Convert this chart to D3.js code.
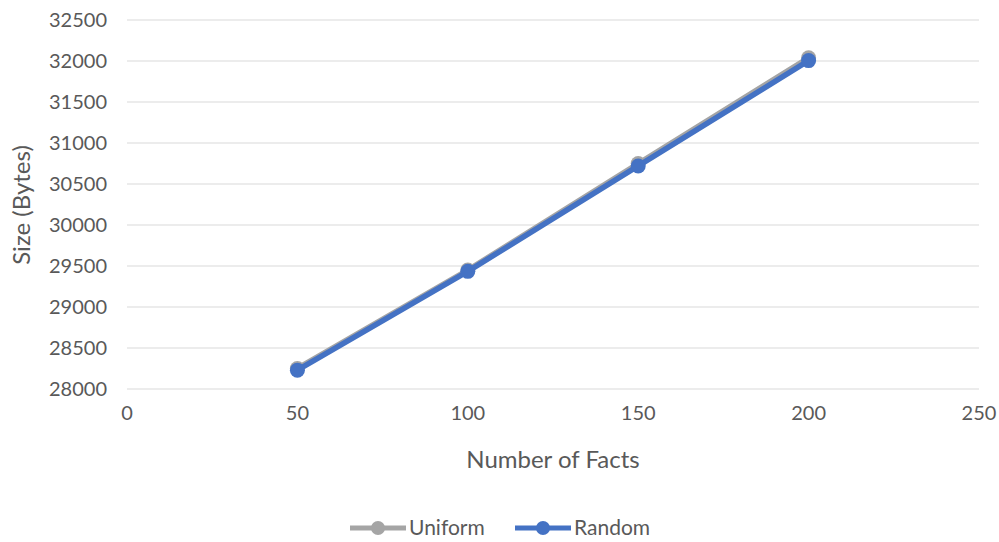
<!DOCTYPE html>
<html><head><meta charset="utf-8">
<script src="https://cdn.jsdelivr.net/npm/d3@7"></script>
<style>body{margin:0;background:#fff}svg{display:block;font-family:Lato,"Open Sans",sans-serif}</style>
</head><body>
<svg id="c" width="999" height="542"></svg>
<script>
const facts = [50, 100, 150, 200];
const uniform = [28250, 29450, 30750, 32040];
const random = [28230, 29435, 30720, 32005];
const seriesNames = ["Uniform", "Random"];
const seriesColors = ["#a5a5a5", "#4472c4"];
const xTicks = [0, 50, 100, 150, 200, 250];
const yTicks = [28000, 28500, 29000, 29500, 30000, 30500, 31000, 31500, 32000, 32500];

const svg = d3.select("#c");
const x = d3.scaleLinear().domain([0, 250]).range([127, 979]);
const y = d3.scaleLinear().domain([28000, 32500]).range([389, 20]);

svg.append("g").selectAll("line").data(yTicks).join("line")
  .attr("x1", x(0)).attr("x2", x(250)).attr("y1", d => y(d)).attr("y2", d => y(d))
  .attr("stroke", "#d9d9d9").attr("stroke-width", 1);

svg.append("g").selectAll("text").data(yTicks).join("text")
  .attr("x", 107).attr("y", d => y(d)).attr("dy", "0.35em").attr("text-anchor", "end")
  .attr("font-size", 20).attr("fill", "#595959").text(d => d);
svg.append("g").selectAll("text").data(xTicks).join("text")
  .attr("x", d => x(d)).attr("y", 420).attr("text-anchor", "middle")
  .attr("font-size", 20).attr("fill", "#595959").text(d => d);

svg.append("text").attr("x", 553).attr("y", 468).attr("text-anchor", "middle")
  .attr("font-size", 24).attr("fill", "#595959").text("Number of Facts");
svg.append("text").attr("transform", "translate(30,205) rotate(-90)").attr("text-anchor", "middle")
  .attr("font-size", 24).attr("fill", "#595959").text("Size (Bytes)");

const data = [uniform, random];
const line = d3.line().x((d, i) => x(facts[i])).y(d => y(d));
data.forEach((vals, k) => {
  const g = svg.append("g");
  g.append("path").attr("d", line(vals)).attr("fill", "none").attr("stroke", seriesColors[k])
    .attr("stroke-width", 5.5).attr("stroke-linejoin", "round").attr("stroke-linecap", "round");
  g.selectAll("circle").data(vals).join("circle")
    .attr("cx", (d, i) => x(facts[i])).attr("cy", d => y(d)).attr("r", 7.5)
    .attr("fill", seriesColors[k]);
});

const legX = [350, 515];
seriesNames.forEach((n, k) => {
  const g = svg.append("g").attr("transform", `translate(${legX[k]},528)`);
  g.append("line").attr("x1", 0).attr("x2", 56).attr("stroke", seriesColors[k]).attr("stroke-width", 5);
  g.append("circle").attr("cx", 28).attr("r", 7).attr("fill", seriesColors[k]);
  g.append("text").attr("x", 59).attr("dy", "0.35em").attr("font-size", 21).attr("fill", "#595959").text(n);
});
</script>
</body></html>
